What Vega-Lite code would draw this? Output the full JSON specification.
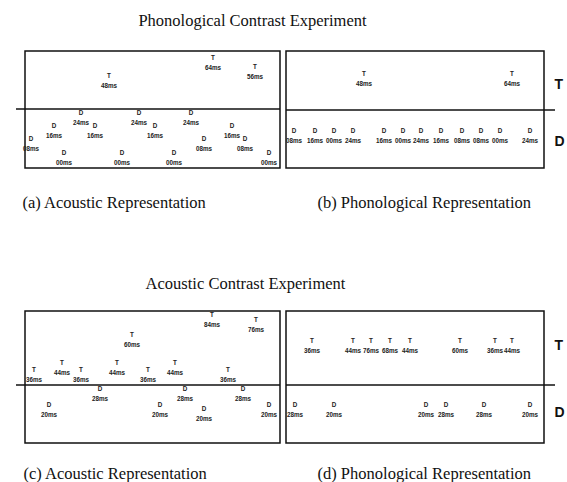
{
  "$schema": "https://vega.github.io/schema/vega-lite/v6.json",
  "padding": {"left": 14, "top": 12, "right": 0, "bottom": 0},
  "spacing": 62,
  "datasets": {
    "a": [
      {"x": 84, "y": 87, "cat": "T", "vot": "48ms"},
      {"x": 188, "y": 105, "cat": "T", "vot": "64ms"},
      {"x": 230, "y": 96, "cat": "T", "vot": "56ms"},
      {"x": 6, "y": 24, "cat": "D", "vot": "08ms"},
      {"x": 29, "y": 37, "cat": "D", "vot": "16ms"},
      {"x": 39, "y": 10, "cat": "D", "vot": "00ms"},
      {"x": 56, "y": 50, "cat": "D", "vot": "24ms"},
      {"x": 70, "y": 37, "cat": "D", "vot": "16ms"},
      {"x": 97, "y": 10, "cat": "D", "vot": "00ms"},
      {"x": 114, "y": 50, "cat": "D", "vot": "24ms"},
      {"x": 130, "y": 37, "cat": "D", "vot": "16ms"},
      {"x": 149, "y": 10, "cat": "D", "vot": "00ms"},
      {"x": 166, "y": 50, "cat": "D", "vot": "24ms"},
      {"x": 179, "y": 24, "cat": "D", "vot": "08ms"},
      {"x": 207, "y": 37, "cat": "D", "vot": "16ms"},
      {"x": 220, "y": 24, "cat": "D", "vot": "08ms"},
      {"x": 244, "y": 10, "cat": "D", "vot": "00ms"}
    ],
    "b": [
      {"x": 78, "y": 89, "cat": "T", "vot": "48ms"},
      {"x": 226, "y": 89, "cat": "T", "vot": "64ms"},
      {"x": 8, "y": 32.5, "cat": "D", "vot": "08ms"},
      {"x": 29, "y": 32.5, "cat": "D", "vot": "16ms"},
      {"x": 48, "y": 32.5, "cat": "D", "vot": "00ms"},
      {"x": 67, "y": 32.5, "cat": "D", "vot": "24ms"},
      {"x": 98, "y": 32.5, "cat": "D", "vot": "16ms"},
      {"x": 117, "y": 32.5, "cat": "D", "vot": "00ms"},
      {"x": 135, "y": 32.5, "cat": "D", "vot": "24ms"},
      {"x": 155, "y": 32.5, "cat": "D", "vot": "16ms"},
      {"x": 176, "y": 32.5, "cat": "D", "vot": "08ms"},
      {"x": 195, "y": 32.5, "cat": "D", "vot": "08ms"},
      {"x": 214, "y": 32.5, "cat": "D", "vot": "00ms"},
      {"x": 244, "y": 32.5, "cat": "D", "vot": "24ms"}
    ],
    "c": [
      {"x": 9, "y": 68, "cat": "T", "vot": "36ms"},
      {"x": 37, "y": 75, "cat": "T", "vot": "44ms"},
      {"x": 56, "y": 68, "cat": "T", "vot": "36ms"},
      {"x": 92, "y": 75, "cat": "T", "vot": "44ms"},
      {"x": 107, "y": 103, "cat": "T", "vot": "60ms"},
      {"x": 123, "y": 68, "cat": "T", "vot": "36ms"},
      {"x": 150, "y": 75, "cat": "T", "vot": "44ms"},
      {"x": 187, "y": 123, "cat": "T", "vot": "84ms"},
      {"x": 203, "y": 68, "cat": "T", "vot": "36ms"},
      {"x": 231, "y": 118, "cat": "T", "vot": "76ms"},
      {"x": 75, "y": 49.5, "cat": "D", "vot": "28ms"},
      {"x": 24, "y": 33.5, "cat": "D", "vot": "20ms"},
      {"x": 135, "y": 33.5, "cat": "D", "vot": "20ms"},
      {"x": 160, "y": 49.5, "cat": "D", "vot": "28ms"},
      {"x": 179, "y": 29.5, "cat": "D", "vot": "20ms"},
      {"x": 218, "y": 49.5, "cat": "D", "vot": "28ms"},
      {"x": 244, "y": 33.5, "cat": "D", "vot": "20ms"}
    ],
    "d": [
      {"x": 26, "y": 97, "cat": "T", "vot": "36ms"},
      {"x": 67, "y": 97, "cat": "T", "vot": "44ms"},
      {"x": 85, "y": 97, "cat": "T", "vot": "76ms"},
      {"x": 104, "y": 97, "cat": "T", "vot": "68ms"},
      {"x": 124, "y": 97, "cat": "T", "vot": "44ms"},
      {"x": 174, "y": 97, "cat": "T", "vot": "60ms"},
      {"x": 209, "y": 97, "cat": "T", "vot": "36ms"},
      {"x": 226, "y": 97, "cat": "T", "vot": "44ms"},
      {"x": 9, "y": 33, "cat": "D", "vot": "28ms"},
      {"x": 48, "y": 33, "cat": "D", "vot": "20ms"},
      {"x": 140, "y": 33, "cat": "D", "vot": "20ms"},
      {"x": 160, "y": 33, "cat": "D", "vot": "28ms"},
      {"x": 198, "y": 33, "cat": "D", "vot": "28ms"},
      {"x": 244, "y": 33, "cat": "D", "vot": "20ms"}
    ]
  },
  "vconcat": [
    {
      "spacing": 6,
      "bounds": "flush",
      "hconcat": [
        {
          "width": 255, "height": 117,
          "title": {"text": "Phonological Contrast Experiment", "dx": 100, "offset": 21.5},
          "layer": [
            {
              "data": {"values": [{}]},
              "mark": {"type": "rule", "color": "#111", "strokeWidth": 1.5},
              "encoding": {
                "x": {"datum": -9, "type": "quantitative", "scale": {"domain": [0, 255], "nice": false, "zero": false}, "title": "(a) Acoustic Representation", "axis": {"titleX": -3, "titleY": 34}},
                "x2": {"datum": 255},
                "y": {"datum": 59, "type": "quantitative", "scale": {"domain": [0, 117], "nice": false, "zero": false}, "axis": null}
              }
            },
            {
              "data": {"name": "a"},
              "mark": {"type": "text", "dy": -5, "color": "#222"},
              "encoding": {
                "x": {"field": "x", "type": "quantitative", "title": "(a) Acoustic Representation"},
                "y": {"field": "y", "type": "quantitative", "axis": null},
                "text": {"field": "cat"}
              }
            },
            {
              "data": {"name": "a"},
              "mark": {"type": "text", "dy": 5, "color": "#222"},
              "encoding": {
                "x": {"field": "x", "type": "quantitative", "title": "(a) Acoustic Representation"},
                "y": {"field": "y", "type": "quantitative", "axis": null},
                "text": {"field": "vot"}
              }
            }
          ]
        },
        {
          "width": 258, "height": 117,
          "layer": [
            {
              "data": {"values": [{}]},
              "mark": {"type": "rule", "color": "#111", "strokeWidth": 1.5},
              "encoding": {
                "x": {"datum": 0, "type": "quantitative", "scale": {"domain": [0, 258], "nice": false, "zero": false}, "title": "(b) Phonological Representation", "axis": {"titleX": 31, "titleY": 34}},
                "x2": {"datum": 269},
                "y": {"datum": 58, "type": "quantitative", "scale": {"domain": [0, 117], "nice": false, "zero": false}, "axis": {"orient": "right", "values": [84, 27], "labelExpr": "datum.value > 58 ? 'T' : 'D'"}}
              }
            },
            {
              "data": {"name": "b"},
              "mark": {"type": "text", "dy": -5, "color": "#222"},
              "encoding": {
                "x": {"field": "x", "type": "quantitative", "title": "(b) Phonological Representation"},
                "y": {"field": "y", "type": "quantitative"},
                "text": {"field": "cat"}
              }
            },
            {
              "data": {"name": "b"},
              "mark": {"type": "text", "dy": 5, "color": "#222"},
              "encoding": {
                "x": {"field": "x", "type": "quantitative", "title": "(b) Phonological Representation"},
                "y": {"field": "y", "type": "quantitative"},
                "text": {"field": "vot"}
              }
            }
          ]
        }
      ]
    },
    {
      "spacing": 6,
      "bounds": "flush",
      "hconcat": [
        {
          "width": 255, "height": 132,
          "title": {"text": "Acoustic Contrast Experiment", "dx": 93, "offset": 19},
          "layer": [
            {
              "data": {"values": [{}]},
              "mark": {"type": "rule", "color": "#111", "strokeWidth": 1.5},
              "encoding": {
                "x": {"datum": -9, "type": "quantitative", "scale": {"domain": [0, 255], "nice": false, "zero": false}, "title": "(c) Acoustic Representation", "axis": {"titleX": -2, "titleY": 30}},
                "x2": {"datum": 255},
                "y": {"datum": 58, "type": "quantitative", "scale": {"domain": [0, 132], "nice": false, "zero": false}, "axis": null}
              }
            },
            {
              "data": {"name": "c"},
              "mark": {"type": "text", "dy": -5, "color": "#222"},
              "encoding": {
                "x": {"field": "x", "type": "quantitative", "title": "(c) Acoustic Representation"},
                "y": {"field": "y", "type": "quantitative", "axis": null},
                "text": {"field": "cat"}
              }
            },
            {
              "data": {"name": "c"},
              "mark": {"type": "text", "dy": 5, "color": "#222"},
              "encoding": {
                "x": {"field": "x", "type": "quantitative", "title": "(c) Acoustic Representation"},
                "y": {"field": "y", "type": "quantitative", "axis": null},
                "text": {"field": "vot"}
              }
            }
          ]
        },
        {
          "width": 258, "height": 132,
          "layer": [
            {
              "data": {"values": [{}]},
              "mark": {"type": "rule", "color": "#111", "strokeWidth": 1.5},
              "encoding": {
                "x": {"datum": 0, "type": "quantitative", "scale": {"domain": [0, 258], "nice": false, "zero": false}, "title": "(d) Phonological Representation", "axis": {"titleX": 31, "titleY": 30}},
                "x2": {"datum": 269},
                "y": {"datum": 58, "type": "quantitative", "scale": {"domain": [0, 132], "nice": false, "zero": false}, "axis": {"orient": "right", "values": [98, 31], "labelExpr": "datum.value > 58 ? 'T' : 'D'"}}
              }
            },
            {
              "data": {"name": "d"},
              "mark": {"type": "text", "dy": -5, "color": "#222"},
              "encoding": {
                "x": {"field": "x", "type": "quantitative", "title": "(d) Phonological Representation"},
                "y": {"field": "y", "type": "quantitative"},
                "text": {"field": "cat"}
              }
            },
            {
              "data": {"name": "d"},
              "mark": {"type": "text", "dy": 5, "color": "#222"},
              "encoding": {
                "x": {"field": "x", "type": "quantitative", "title": "(d) Phonological Representation"},
                "y": {"field": "y", "type": "quantitative"},
                "text": {"field": "vot"}
              }
            }
          ]
        }
      ]
    }
  ],
  "config": {
    "background": "white",
    "view": {"stroke": "#111", "strokeWidth": 1.5},
    "text": {"font": "Liberation Sans", "fontWeight": "bold", "fontSize": 6.3, "baseline": "middle"},
    "title": {"font": "Liberation Serif", "fontSize": 16.5, "fontWeight": "normal", "color": "#111", "anchor": "middle", "frame": "group", "baseline": "top"},
    "axisX": {"labels": false, "ticks": false, "domain": false, "grid": false, "titleFont": "Liberation Serif", "titleFontSize": 16.5, "titleFontWeight": "normal", "titleColor": "#111", "titleAnchor": "start", "titleAlign": "left", "titleBaseline": "middle"},
    "axisY": {"grid": false, "domain": false, "ticks": false, "tickSize": 0, "labelPadding": 10, "labelFont": "Liberation Sans", "labelFontWeight": "bold", "labelFontSize": 14, "labelColor": "#111", "title": null}
  }
}
